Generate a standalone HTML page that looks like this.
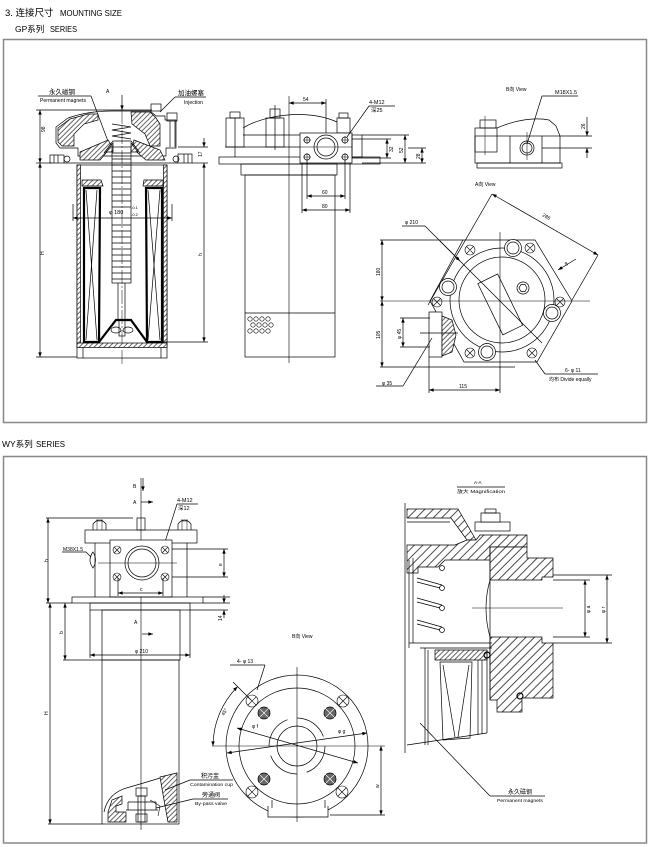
<!DOCTYPE html>
<html><head><meta charset="utf-8">
<style>
html,body{margin:0;padding:0;background:#fff;width:650px;height:847px;overflow:hidden}
svg{display:block}
text{font-family:"Liberation Sans","Noto Sans CJK SC",sans-serif;fill:#000;stroke:none}
</style></head><body>
<svg width="650" height="847" viewBox="0 0 650 847" xmlns="http://www.w3.org/2000/svg">
<defs>
<pattern id="h" patternUnits="userSpaceOnUse" width="3.5" height="3.5" patternTransform="rotate(45)"><rect width="3.5" height="3.5" fill="#fff"/><line x1="0.5" y1="0" x2="0.5" y2="3.5" stroke="#000" stroke-width="0.6"/></pattern>
<pattern id="hb" patternUnits="userSpaceOnUse" width="6" height="6" patternTransform="rotate(45)"><rect width="6" height="6" fill="#fff"/><line x1="0.5" y1="0" x2="0.5" y2="6" stroke="#000" stroke-width="0.7"/></pattern>
<marker id="ar" viewBox="0 0 8 6" refX="8" refY="3" markerWidth="5" markerHeight="3.5" markerUnits="userSpaceOnUse" orient="auto-start-reverse"><path d="M0,0L8,3L0,6z" fill="#000"/></marker>
</defs>

<!-- headings -->
<text x="5" y="16" font-size="9.5">3. 连接尺寸</text>
<text x="60" y="16" font-size="8.5" textLength="62" lengthAdjust="spacingAndGlyphs">MOUNTING SIZE</text>
<text x="15" y="32" font-size="8.5">GP系列</text>
<text x="50" y="32" font-size="8" textLength="27" lengthAdjust="spacingAndGlyphs">SERIES</text>
<text x="2" y="447" font-size="8.5">WY系列</text>
<text x="36" y="447" font-size="8" textLength="29" lengthAdjust="spacingAndGlyphs">SERIES</text>

<!-- frames -->
<rect x="3.5" y="39.5" width="643" height="383" fill="none" stroke="#888" stroke-width="1.5"/>
<rect x="3.5" y="456.5" width="643" height="386.5" fill="none" stroke="#888" stroke-width="1.5"/>

<g fill="none" stroke="#000" stroke-width="0.7">

<!-- ================= GP LEFT SECTION ================= -->
<line x1="38" y1="96" x2="91" y2="96"/>
<line x1="91" y1="96" x2="112" y2="152"/>
<line x1="175" y1="97" x2="206" y2="97"/>
<line x1="175" y1="97" x2="160" y2="112"/>
<line x1="122" y1="95" x2="122" y2="110" marker-end="url(#ar)"/>
<line x1="122" y1="110" x2="122" y2="366" stroke-dasharray="14 2 2 2" stroke-width="0.5"/>
<line x1="36" y1="110" x2="152" y2="110"/>
<line x1="40" y1="110" x2="40" y2="163" marker-start="url(#ar)" marker-end="url(#ar)"/>
<line x1="40" y1="163" x2="40" y2="357" marker-start="url(#ar)" marker-end="url(#ar)"/>
<line x1="36" y1="163" x2="52" y2="163"/>
<line x1="36" y1="357" x2="77" y2="357"/>

<!-- head -->
<path d="M56,127 L68,118 Q88,111 112,111 L150,111 L156,116 L165,116 L165,120 L176,120 L176,148 L166,148 L166,156 L78,156 L78,148 L60,148 L56,143 Z"/>
<polygon points="58,128 70,119 88,114 98,114 98,120 84,124 74,134 74,146 62,146 58,142" fill="url(#h)"/>
<polygon points="131,112 150,112 156,118 160,124 160,146 150,146 145,134 132,124" fill="url(#h)"/>
<polygon points="80,152 108,140 112,146 100,160 80,160" fill="url(#h)"/>
<polygon points="134,140 160,150 165,160 146,160 132,148" fill="url(#h)"/>
<polyline points="112,124 131,127 112,130 131,133 112,136 131,139"/>
<rect x="151" y="104" width="10" height="7"/>
<rect x="167" y="113" width="10" height="8"/>
<line x1="170" y1="121" x2="170" y2="147"/><line x1="175" y1="121" x2="175" y2="147"/>
<rect x="50" y="155" width="14" height="8"/><line x1="54" y1="155" x2="54" y2="163"/><line x1="58" y1="155" x2="58" y2="163"/>
<circle cx="67" cy="159" r="3"/>
<rect x="178" y="154" width="14" height="9"/><line x1="184" y1="154" x2="184" y2="163"/><line x1="188" y1="154" x2="188" y2="163"/>
<circle cx="176" cy="159" r="3"/>
<line x1="64" y1="163" x2="178" y2="163"/>

<!-- bowl -->
<rect x="77" y="165" width="90" height="193"/>
<rect x="77" y="165" width="3.5" height="178" fill="url(#h)"/>
<rect x="163.5" y="165" width="3.5" height="178" fill="url(#h)"/>
<rect x="77" y="343" width="90" height="4.5" fill="url(#h)"/>
<line x1="83" y1="347" x2="83" y2="358"/><line x1="161" y1="347" x2="161" y2="358"/>
<polygon points="82,180 101,180 103,186 82,186" fill="url(#h)"/>
<polygon points="144,180 163,180 163,186 143,186" fill="url(#h)"/>
<path d="M84,188 L100,188 L99,342 L84,342 Z" stroke-width="2.2"/>
<path d="M146,188 L162,188 L162,342 L147,342 Z" stroke-width="2.2"/>
<path d="M99,342 L116,320 L131,320 L147,342" stroke-width="2.2"/>
<line x1="86" y1="190" x2="97" y2="340"/><line x1="97" y1="190" x2="86" y2="340"/>
<line x1="148" y1="190" x2="160" y2="340"/><line x1="160" y1="190" x2="148" y2="340"/>
<!-- magnet column -->
<path d="M104,153 L113,141 L131,141 L140,153"/>
<polygon points="106,152 113,143 113,152" fill="url(#h)"/>
<polygon points="131,143 138,152 131,152" fill="url(#h)"/>
<rect x="112" y="147" width="19" height="136"/>
<path d="M112,153H131M112,159H131M112,165H131M112,171H131M112,177H131M112,183H131M112,189H131M112,195H131M112,201H131M112,207H131M112,225H131M112,231H131M112,237H131M112,243H131M112,249H131M112,255H131M112,261H131M112,267H131M112,273H131M112,279H131"/>
<line x1="118" y1="283" x2="118" y2="320"/><line x1="125" y1="283" x2="125" y2="320"/>
<ellipse cx="116" cy="330" rx="5" ry="3"/><ellipse cx="128" cy="330" rx="5" ry="3"/>
<rect x="119" y="320" width="6" height="16"/>
<!-- phi180 -->
<line x1="73" y1="204" x2="73" y2="221"/><line x1="172" y1="204" x2="172" y2="221"/>
<line x1="73" y1="218" x2="172" y2="218" marker-start="url(#ar)" marker-end="url(#ar)"/>
<!-- right dims -->
<line x1="178" y1="147" x2="208" y2="147"/>
<line x1="192" y1="163" x2="208" y2="163"/>
<line x1="204" y1="138" x2="204" y2="147" marker-end="url(#ar)"/>
<line x1="204" y1="163" x2="204" y2="342" marker-start="url(#ar)" marker-end="url(#ar)"/>
<line x1="163" y1="342" x2="208" y2="342"/>

<!-- ================= GP MIDDLE ================= -->
<line x1="289" y1="96" x2="289" y2="363" stroke-width="0.6"/>
<line x1="289" y1="103" x2="326" y2="103" marker-start="url(#ar)" marker-end="url(#ar)"/>
<line x1="326" y1="99" x2="326" y2="133"/>
<path d="M243,128 C262,116 305,108 337,122"/>
<line x1="225" y1="147" x2="300" y2="147"/>
<line x1="243" y1="135" x2="300" y2="135"/>
<rect x="230" y="112" width="10" height="6"/><rect x="226" y="118" width="18" height="29"/>
<line x1="235" y1="118" x2="235" y2="157"/>
<rect x="270" y="109" width="10" height="9"/><rect x="266" y="118" width="18" height="29"/>
<line x1="275" y1="105" x2="275" y2="150"/>
<rect x="339" y="113" width="9" height="5"/><rect x="337" y="118" width="13" height="15"/>
<rect x="219" y="157" width="161" height="7"/>
<rect x="241" y="164" width="96" height="11"/>
<rect x="245" y="175" width="90" height="182"/>
<line x1="245" y1="313" x2="335" y2="313"/>
<g stroke-width="0.6">
<circle cx="250" cy="319" r="2.2"/><circle cx="256" cy="319" r="2.2"/><circle cx="262" cy="319" r="2.2"/><circle cx="268" cy="319" r="2.2"/>
<circle cx="253" cy="325" r="2.2"/><circle cx="259" cy="325" r="2.2"/><circle cx="265" cy="325" r="2.2"/><circle cx="271" cy="325" r="2.2"/>
<circle cx="250" cy="331" r="2.2"/><circle cx="256" cy="331" r="2.2"/><circle cx="262" cy="331" r="2.2"/><circle cx="268" cy="331" r="2.2"/>
</g>
<rect x="300" y="133" width="52" height="30" fill="#fff"/>
<rect x="352" y="135" width="10" height="22"/>
<circle cx="326" cy="147" r="12"/><circle cx="326" cy="147" r="9"/>
<line x1="300" y1="147" x2="352" y2="147" stroke-width="0.5"/>
<g>
<circle cx="307" cy="140" r="3"/><circle cx="345" cy="140" r="3"/><circle cx="307" cy="157" r="3"/><circle cx="345" cy="157" r="3"/>
<path d="M303,140H311M307,136V144M341,140H349M345,136V144M303,157H311M307,153V161M341,157H349M345,153V161" stroke-width="0.5"/>
</g>
<line x1="307" y1="160" x2="307" y2="199"/><line x1="345" y1="160" x2="345" y2="199"/>
<line x1="307" y1="196" x2="345" y2="196" marker-start="url(#ar)" marker-end="url(#ar)"/>
<line x1="302" y1="163" x2="302" y2="213"/><line x1="350" y1="163" x2="350" y2="213"/>
<line x1="302" y1="210" x2="350" y2="210" marker-start="url(#ar)" marker-end="url(#ar)"/>
<line x1="369" y1="106" x2="395" y2="106"/>
<line x1="369" y1="106" x2="347" y2="137"/>
<line x1="362" y1="135" x2="409" y2="135"/>
<line x1="352" y1="139" x2="391" y2="139"/>
<line x1="352" y1="158" x2="391" y2="158"/>
<line x1="362" y1="163" x2="426" y2="163"/>
<line x1="408" y1="148" x2="426" y2="148"/>
<line x1="387" y1="139" x2="387" y2="158" marker-start="url(#ar)" marker-end="url(#ar)"/>
<line x1="405" y1="135" x2="405" y2="163" marker-start="url(#ar)" marker-end="url(#ar)"/>
<line x1="422" y1="148" x2="422" y2="163" marker-start="url(#ar)" marker-end="url(#ar)"/>

<!-- ================= B VIEW (GP) ================= -->
<line x1="542" y1="96" x2="578" y2="96"/>
<line x1="542" y1="96" x2="527" y2="144"/>
<path d="M497,128 C515,120 535,117 549,120 L556,126 L560,136"/>
<rect x="480" y="120" width="16" height="8"/>
<rect x="475" y="128" width="22" height="24"/>
<line x1="485" y1="116" x2="485" y2="155" stroke-width="0.5"/>
<rect x="475" y="136" width="85" height="27"/>
<rect x="477" y="163" width="85" height="5"/>
<line x1="510" y1="136" x2="510" y2="163"/><line x1="542" y1="136" x2="542" y2="163"/>
<circle cx="527" cy="148" r="7"/><circle cx="527" cy="148" r="5"/>
<line x1="527" y1="132" x2="527" y2="160" stroke-width="0.5"/>
<line x1="560" y1="136" x2="592" y2="136"/>
<line x1="542" y1="148" x2="592" y2="148"/>
<line x1="587" y1="117" x2="587" y2="136" marker-end="url(#ar)"/>
<line x1="587" y1="158" x2="587" y2="148" marker-end="url(#ar)"/>

<!-- ================= A VIEW (GP) ================= -->
<line x1="492" y1="194" x2="598" y2="255" marker-start="url(#ar)" marker-end="url(#ar)"/>
<line x1="492" y1="194" x2="428" y2="305"/>
<line x1="598" y1="255" x2="572" y2="300"/>
<line x1="558" y1="270" x2="576" y2="259" marker-start="url(#ar)"/>
<polygon points="463,240 535,240 572,301 537,362 464,362 430,301"/>
<line x1="380" y1="301" x2="590" y2="301" stroke-width="0.6"/>
<line x1="500" y1="232" x2="500" y2="368" stroke-width="0.6"/>
<line x1="380" y1="240" x2="463" y2="240"/>
<line x1="380" y1="367" x2="515" y2="367"/>
<line x1="382" y1="240" x2="382" y2="301" marker-start="url(#ar)" marker-end="url(#ar)"/>
<line x1="382" y1="301" x2="382" y2="367" marker-start="url(#ar)" marker-end="url(#ar)"/>
<circle cx="502" cy="300" r="52"/>
<circle cx="502" cy="300" r="43"/>
<rect x="489" y="276" width="22" height="57" transform="rotate(-26 500 304)"/>
<circle cx="523" cy="288" r="6"/>
<polygon points="527,288 525,291.5 521,291.5 519,288 521,284.5 525,284.5"/>
<g fill="#fff">
<circle cx="513" cy="248" r="8.5"/><circle cx="448" cy="287" r="8.5"/><circle cx="552" cy="313" r="8.5"/><circle cx="487" cy="352" r="8.5"/>
</g>
<circle cx="513" cy="248" r="6"/><circle cx="448" cy="287" r="6"/><circle cx="552" cy="313" r="6"/><circle cx="487" cy="352" r="6"/>
<g stroke-width="0.6">
<circle cx="470" cy="250" r="5"/><circle cx="530" cy="248" r="5"/><circle cx="560" cy="302" r="5"/><circle cx="532" cy="353" r="5"/><circle cx="470" cy="353" r="5"/><circle cx="437" cy="302" r="5"/>
<path d="M466.5,246.5L473.5,253.5M473.5,246.5L466.5,253.5M526.5,244.5L533.5,251.5M533.5,244.5L526.5,251.5M556.5,298.5L563.5,305.5M563.5,298.5L556.5,305.5M528.5,349.5L535.5,356.5M535.5,349.5L528.5,356.5M466.5,349.5L473.5,356.5M473.5,349.5L466.5,356.5M433.5,298.5L440.5,305.5M440.5,298.5L433.5,305.5"/>
</g>
<rect x="429" y="312" width="13" height="45" fill="#fff"/>
<polygon points="442,316 452,320 456,335 452,352 442,356" fill="url(#h)"/>
<line x1="400" y1="318" x2="430" y2="318"/><line x1="400" y1="347" x2="430" y2="347"/>
<line x1="403" y1="318" x2="403" y2="347" marker-start="url(#ar)" marker-end="url(#ar)"/>
<line x1="420" y1="333" x2="458" y2="333"/>
<line x1="376" y1="386" x2="403" y2="386"/>
<line x1="403" y1="386" x2="432" y2="338"/>
<line x1="402" y1="226" x2="425" y2="226"/>
<line x1="425" y1="226" x2="542" y2="343"/>
<line x1="440" y1="241" x2="460" y2="261" marker-end="url(#ar)"/>
<line x1="429" y1="357" x2="429" y2="393"/>
<line x1="500" y1="367" x2="500" y2="393"/>
<line x1="429" y1="390" x2="500" y2="390" marker-start="url(#ar)" marker-end="url(#ar)"/>
<line x1="545" y1="374" x2="598" y2="374"/>
<line x1="545" y1="374" x2="535" y2="360"/>

<!-- ================= WY LEFT ================= -->
<line x1="141" y1="478" x2="141" y2="830" stroke-width="0.6"/>
<line x1="143" y1="478" x2="143" y2="491" marker-end="url(#ar)"/>
<line x1="141" y1="502" x2="153" y2="502" marker-end="url(#ar)"/>
<line x1="177" y1="504" x2="198" y2="504"/>
<line x1="177" y1="504" x2="165" y2="542"/>
<line x1="46" y1="518" x2="133" y2="518"/>
<line x1="48" y1="518" x2="48" y2="603" marker-start="url(#ar)" marker-end="url(#ar)"/>
<path d="M93,530 L93,524 Q99.5,516 106,524 L106,530"/>
<path d="M96,521H103M97,519V530M102,519V530" stroke-width="0.5"/>
<path d="M178,530 L178,524 Q184.5,516 191,524 L191,530"/>
<path d="M181,521H188M182,519V530M187,519V530" stroke-width="0.5"/>
<rect x="137" y="518" width="8" height="12"/>
<rect x="85" y="530" width="112" height="13"/>
<line x1="95" y1="543" x2="95" y2="597"/><line x1="187" y1="543" x2="187" y2="597"/>
<rect x="110" y="540" width="62" height="57" fill="#fff"/>
<circle cx="142" cy="563" r="17"/><circle cx="142" cy="563" r="14"/>
<g stroke-width="0.6">
<circle cx="117" cy="550" r="4"/><circle cx="165" cy="550" r="4"/><circle cx="117" cy="577" r="4"/><circle cx="165" cy="577" r="4"/>
<path d="M114,547L120,553M120,547L114,553M162,547L168,553M168,547L162,553M114,574L120,580M120,574L114,580M162,574L168,580M168,574L162,580"/>
</g>
<line x1="98" y1="563" x2="177" y2="563" stroke-width="0.5"/>
<line x1="62" y1="552" x2="86" y2="552"/>
<line x1="86" y1="552" x2="91" y2="557"/>
<path d="M93,552 Q87,560 93,568 Q98,560 93,552 Z"/>
<line x1="172" y1="549" x2="228" y2="549"/><line x1="172" y1="577" x2="228" y2="577"/>
<line x1="224" y1="549" x2="224" y2="577" marker-start="url(#ar)" marker-end="url(#ar)"/>
<line x1="118" y1="578" x2="118" y2="596"/><line x1="163" y1="578" x2="163" y2="596"/>
<line x1="118" y1="593" x2="163" y2="593" marker-start="url(#ar)" marker-end="url(#ar)"/>
<rect x="72" y="597" width="131" height="6"/>
<line x1="203" y1="597" x2="230" y2="597"/>
<line x1="46" y1="603" x2="72" y2="603"/>
<line x1="203" y1="603" x2="230" y2="603"/>
<rect x="90" y="603" width="100" height="7"/>
<line x1="190" y1="610" x2="228" y2="610"/>
<line x1="224" y1="595" x2="224" y2="603" marker-end="url(#ar)"/>
<line x1="224" y1="618" x2="224" y2="610" marker-end="url(#ar)"/>
<rect x="102" y="610" width="78" height="50"/>
<line x1="90" y1="610" x2="90" y2="658"/><line x1="190" y1="610" x2="190" y2="658"/>
<line x1="90" y1="655" x2="190" y2="655" marker-start="url(#ar)" marker-end="url(#ar)"/>
<line x1="142" y1="634" x2="153" y2="634" marker-end="url(#ar)"/>
<line x1="63" y1="660" x2="102" y2="660"/>
<line x1="65" y1="603" x2="65" y2="660" marker-start="url(#ar)" marker-end="url(#ar)"/>
<rect x="102" y="660" width="77" height="164"/>
<line x1="50" y1="603" x2="50" y2="824" marker-start="url(#ar)" marker-end="url(#ar)"/>
<line x1="48" y1="824" x2="102" y2="824"/>
<path d="M104,812 Q108,792 130,787 L177,773"/>
<polygon points="160,777 177,773 177,822 168,822 164,800" fill="url(#h)"/>
<path d="M108,812 L112,800 L122,796 L122,804 L116,806 L116,812 L126,812 L126,822 L108,822 Z" fill="url(#h)"/>
<rect x="136" y="788" width="11" height="8"/>
<rect x="138" y="796" width="7" height="26"/>
<path d="M128,802H156M128,802V810M156,802V810M126,810H158" />
<rect x="136" y="814" width="11" height="8"/>
<path d="M150,800 L160,806 L158,816" stroke-width="0.6"/>
<line x1="190" y1="780" x2="233" y2="780"/>
<line x1="190" y1="780" x2="165" y2="790"/>
<line x1="193" y1="799" x2="228" y2="799"/>
<line x1="193" y1="799" x2="156" y2="808"/>

<!-- ================= WY B VIEW ================= -->
<circle cx="297" cy="746" r="71"/>
<circle cx="297" cy="746" r="58"/>
<circle cx="297" cy="746" r="20"/>
<circle cx="297" cy="746" r="28" stroke-dasharray="34 10"/>
<path d="M268,806 L268,817 L328,817 L328,806" fill="#fff"/>
<line x1="272" y1="800" x2="272" y2="808"/><line x1="325" y1="800" x2="325" y2="808"/>
<line x1="212" y1="746" x2="385" y2="746" stroke-width="0.6"/>
<line x1="297" y1="667" x2="297" y2="822" stroke-width="0.6"/>
<g stroke-width="0.6">
<circle cx="252" cy="701" r="6"/><circle cx="343" cy="701" r="6"/><circle cx="252" cy="792" r="6"/><circle cx="342" cy="792" r="6"/>
<path d="M248,697L256,705M256,697L248,705M339,697L347,705M347,697L339,705M248,788L256,796M256,788L248,796M338,788L346,796M346,788L338,796"/>
</g>
<g fill="#666">
<circle cx="264" cy="713" r="6"/><circle cx="330" cy="713" r="6"/><circle cx="264" cy="779" r="6"/><circle cx="330" cy="779" r="6"/>
</g>
<path d="M259,708L269,718M269,708L259,718M325,708L335,718M335,708L325,718M259,774L269,784M269,774L259,784M325,774L335,784M335,774L325,784" stroke="#fff" stroke-width="0.6"/>
<line x1="237" y1="728" x2="358" y2="763" marker-start="url(#ar)" marker-end="url(#ar)"/>
<line x1="227" y1="753" x2="367" y2="733" marker-start="url(#ar)" marker-end="url(#ar)"/>
<path d="M213,746 A84,84 0 0 1 237.6,686.6" marker-start="url(#ar)" marker-end="url(#ar)"/>
<line x1="233" y1="682" x2="251" y2="700"/>
<line x1="230" y1="665" x2="265" y2="665"/>
<line x1="265" y1="665" x2="257" y2="690"/>
<line x1="330" y1="815" x2="385" y2="815"/>
<line x1="381" y1="746" x2="381" y2="815" marker-start="url(#ar)" marker-end="url(#ar)"/>

<!-- ================= A-A SECTION ================= -->
<line x1="457" y1="487" x2="505" y2="487"/>
<line x1="405" y1="503" x2="405" y2="753"/>
<polygon points="407,509 458,509 476,540 467,540 451,518 407,518" fill="url(#hb)"/>
<polygon points="407,545 455,545 467,540 476,540 480,535 527,535 527,547 490,547 490,560 445,560 438,567 418,567 418,573 407,573" fill="url(#hb)"/>
<polygon points="490,547 527,547 527,558 553,558 553,577 542,577 542,580 490,580" fill="url(#hb)"/>
<polygon points="490,637 542,637 542,643 553,643 553,698 522,698 522,712 497,712 497,700 490,700" fill="url(#hb)"/>
<path d="M490,580 Q482,608 490,637"/>
<line x1="490" y1="547" x2="490" y2="700"/>
<rect x="475" y="522" width="35" height="9" fill="#fff"/>
<rect x="481" y="513" width="19" height="9" fill="#fff"/>
<rect x="485" y="509" width="11" height="4"/>
<line x1="407" y1="522" x2="450" y2="522"/>
<line x1="413" y1="558" x2="413" y2="643"/>
<line x1="409" y1="560" x2="409" y2="648"/>
<path d="M417,578 L442,585 M417,582 L440,588 M417,598 L442,605 M417,602 L440,608 M417,620 L442,627 M417,624 L440,630"/>
<circle cx="442" cy="568" r="2.5"/><circle cx="442" cy="588" r="2.5"/><circle cx="442" cy="608" r="2.5"/><circle cx="442" cy="630" r="2.5"/>
<line x1="472" y1="608" x2="563" y2="608" stroke-width="0.5"/>
<line x1="409" y1="643" x2="492" y2="643"/>
<line x1="420" y1="648" x2="492" y2="648"/>
<polygon points="435,650 487,650 487,660 435,660" fill="url(#h)"/>
<polygon points="440,662 472,662 470,738 443,740"/>
<line x1="443" y1="665" x2="455" y2="737"/><line x1="469" y1="665" x2="458" y2="737"/>
<line x1="425" y1="648" x2="425" y2="745"/><line x1="428" y1="650" x2="428" y2="745"/>
<line x1="478" y1="660" x2="478" y2="735"/><line x1="482" y1="660" x2="482" y2="734"/><line x1="487" y1="650" x2="487" y2="733"/>
<line x1="407" y1="745" x2="487" y2="733"/>
<circle cx="487" cy="655" r="3" stroke-width="1.2"/>
<circle cx="520" cy="696" r="3" stroke-width="1.2"/>
<line x1="553" y1="575" x2="612" y2="575"/><line x1="553" y1="643" x2="612" y2="643"/>
<line x1="553" y1="580" x2="590" y2="580"/><line x1="553" y1="637" x2="590" y2="637"/>
<line x1="585" y1="580" x2="585" y2="637" marker-start="url(#ar)" marker-end="url(#ar)"/>
<line x1="607" y1="575" x2="607" y2="643" marker-start="url(#ar)" marker-end="url(#ar)"/>
<line x1="490" y1="796" x2="545" y2="796"/>
<line x1="490" y1="796" x2="420" y2="723"/>
</g>

<!-- ============ TEXT LABELS ============ -->
<g font-size="5">
<text x="49" y="94" font-size="6.5">永久磁钢</text>
<text x="40" y="102" textLength="46" lengthAdjust="spacingAndGlyphs">Permanent magnets</text>
<text x="106" y="93">A</text>
<text x="178" y="95" font-size="6.5">加油螺塞</text>
<text x="184" y="104" textLength="19" lengthAdjust="spacingAndGlyphs">Injection</text>
<text transform="translate(45,132) rotate(-90)">98</text>
<text transform="translate(44,255) rotate(-90)">H</text>
<text transform="translate(202,157) rotate(-90)">17</text>
<text transform="translate(202,256) rotate(-90)">h</text>
<text x="109" y="214" font-size="5.5">φ 180</text>
<text x="131" y="209" font-size="4">-0.1</text>
<text x="131" y="216" font-size="4">-0.2</text>

<text x="303" y="101">54</text>
<text x="369" y="104" font-size="5.5">4-M12</text>
<text x="371" y="112" font-size="5.5">深25</text>
<text x="322" y="194">60</text>
<text x="322" y="208">80</text>
<text transform="translate(393,152) rotate(-90)">32</text>
<text transform="translate(403,153) rotate(-90)">52</text>
<text transform="translate(420,159) rotate(-90)">28</text>

<text x="506" y="91">B向  View</text>
<text x="555" y="94" font-size="5.5">M18X1.5</text>
<text transform="translate(585,129) rotate(-90)">26</text>
<text x="475" y="186">A向  View</text>
<text transform="translate(542,216) rotate(30)">286</text>
<text transform="translate(566,266) rotate(-30)">8</text>
<text x="405" y="224">φ 210</text>
<text transform="translate(380,276) rotate(-90)">180</text>
<text transform="translate(380,339) rotate(-90)">105</text>
<text transform="translate(401,339) rotate(-90)">φ 45</text>
<text x="382" y="385">φ 35</text>
<text x="459" y="388">115</text>
<text x="565" y="372">6- φ 11</text>
<text x="549" y="381">均布  Divide equally</text>

<text x="133" y="488">B</text>
<text x="133" y="504">A</text>
<text x="177" y="502" font-size="5.5">4-M12</text>
<text x="178" y="510" font-size="5.5">深12</text>
<text x="63" y="551">M38X1.5</text>
<text transform="translate(48,562) rotate(-90)">h</text>
<text transform="translate(222,566) rotate(-90)">e</text>
<text x="140" y="591">c</text>
<text transform="translate(222,621) rotate(-90)">14</text>
<text transform="translate(63,634) rotate(-90)">b</text>
<text x="134" y="624">A</text>
<text x="135" y="653">φ 210</text>
<text transform="translate(48,715) rotate(-90)">H</text>
<text x="201" y="778" font-size="6">积污盅</text>
<text x="190" y="786" font-size="4.5" textLength="43" lengthAdjust="spacingAndGlyphs">Contamination cup</text>
<text x="202" y="797" font-size="6">旁通阀</text>
<text x="195" y="805" font-size="4.5" textLength="32" lengthAdjust="spacingAndGlyphs">By-pass valve</text>

<text x="292" y="638">B向  View</text>
<text x="237" y="663">4- φ 13</text>
<text transform="translate(224,716) rotate(-60)">45°</text>
<text x="252" y="728">φ f</text>
<text x="338" y="733">φ g</text>
<text transform="translate(379,788) rotate(-90)">w</text>

<text x="474" y="484" font-size="4.5">A-A</text>
<text x="457" y="493" font-size="4.5" textLength="48" lengthAdjust="spacingAndGlyphs">放大 Magnification</text>
<text transform="translate(590,613) rotate(-90)">φ a</text>
<text transform="translate(605,613) rotate(-90)">φ r</text>
<text x="508" y="794" font-size="6">永久磁钢</text>
<text x="497" y="802" font-size="4.5" textLength="46" lengthAdjust="spacingAndGlyphs">Permanent magnets</text>
</g>
</svg>
</body></html>
